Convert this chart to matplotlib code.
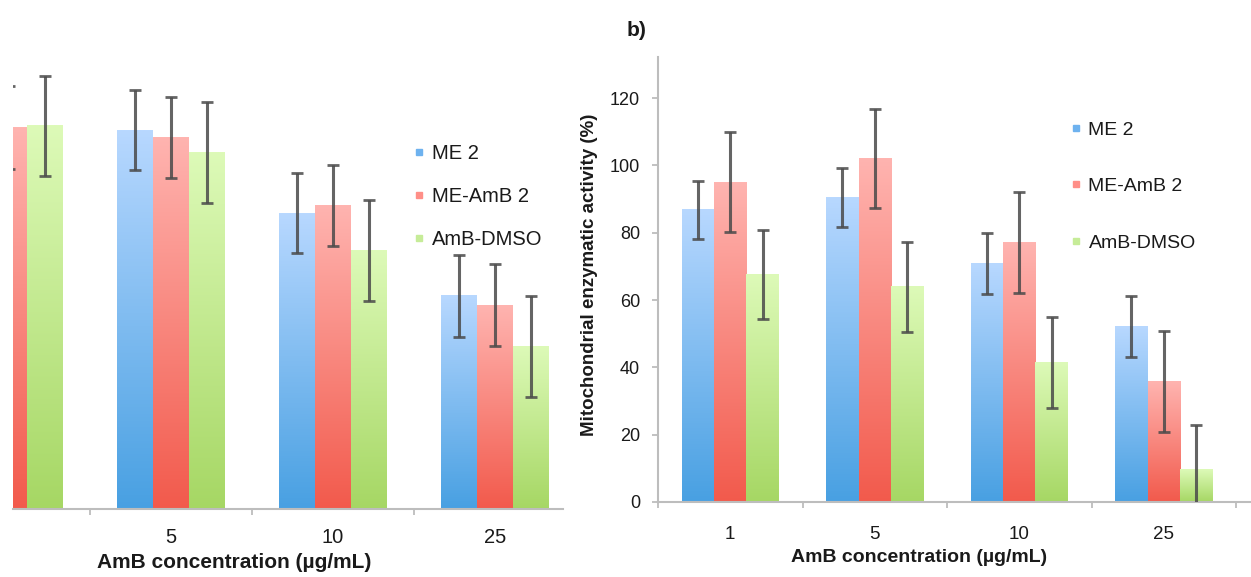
import numpy as np
import matplotlib
matplotlib.use('Agg')
import matplotlib.pyplot as plt
from matplotlib.lines import Line2D
from matplotlib.colors import to_rgb

plt.rcParams['font.family'] = ['Liberation Sans', 'DejaVu Sans']

categories = ['1', '5', '10', '25']
series = ['ME 2', 'ME-AmB 2', 'AmB-DMSO']

# panel a (cropped on the left in the source image)
a_me2 = [112.0, 112.6, 87.9, 63.3]
a_me2_err = [12.0, 11.9, 11.8, 12.2]
a_meamb2 = [113.4, 110.3, 90.1, 60.6]
a_meamb2_err = [12.4, 12.0, 12.0, 12.3]
a_dmso = [113.8, 105.9, 76.8, 48.4]
a_dmso_err = [15.0, 15.0, 14.9, 15.0]

# panel b
b_me2 = [86.8, 90.4, 70.8, 52.2]
b_me2_err = [8.7, 8.7, 9.0, 9.0]
b_meamb2 = [95.0, 102.1, 77.2, 35.7]
b_meamb2_err = [14.9, 14.8, 15.0, 15.0]
b_dmso = [67.6, 63.9, 41.5, 9.7]
b_dmso_err = [13.3, 13.4, 13.5, 13.1]
b_yticks = [0, 20, 40, 60, 80, 100, 120]

grad_top = ['#b8d8ff', '#ffb4b0', '#ddfab8']
grad_bottom = ['#48a0e2', '#f25a4c', '#a6d764']
legend_colors = ['#6eb2ef', '#ff8f88', '#c6ec98']
axis_color = '#bdbdbd'
text_color = '#1a1a1a'
err_color = '#4a4a4a'

W, H = 1251, 577
fig = plt.figure(figsize=(W / 100, H / 100), dpi=100)


def gradient_bars(ax, bars, top, bottom):
    t = np.array(to_rgb(top))
    b = np.array(to_rgb(bottom))
    f = np.linspace(0, 1, 256)[:, None]
    grad = (b + (t - b) * f)[:, None, :]
    for r in bars:
        x0 = r.get_x()
        w = r.get_width()
        h = r.get_height()
        ax.imshow(grad, extent=[x0, x0 + w, 0, h], origin='lower',
                  aspect='auto', interpolation='bilinear', zorder=2)


def draw(ax, vals, errs, width, capsize):
    x = np.arange(len(categories))
    offs = [-width, 0, width]
    for i in range(3):
        bars = ax.bar(x + offs[i], vals[i], width, color=legend_colors[i],
                      zorder=1, linewidth=0)
        gradient_bars(ax, bars, grad_top[i], grad_bottom[i])
        ax.errorbar(x + offs[i], vals[i], yerr=errs[i], fmt='none',
                    ecolor=err_color, elinewidth=2.2, capsize=capsize,
                    capthick=2.0, alpha=0.85, zorder=3)
    return x


def px(x, y):
    return x / W, 1 - y / H


# ---------- left panel (cropped) ----------
axl = fig.add_axes([13 / W, 68 / H, 550 / W, 452 / H])
xl = draw(axl, [a_me2, a_meamb2, a_dmso], [a_me2_err, a_meamb2_err, a_dmso_err], 0.222, 4.5)
for s in ['top', 'right', 'left']:
    axl.spines[s].set_visible(False)
axl.spines['bottom'].set_color(axis_color)
axl.spines['bottom'].set_linewidth(1.5)
axl.set_yticks([])
axl.set_xticks(xl[1:], categories[1:])
axl.set_xticks(np.arange(-0.5, len(categories), 1.0), minor=True)
axl.set_xlim(0.025, 3.42)
axl.set_ylim(0, 134.3)
axl.tick_params(axis='x', which='major', length=0, pad=14, labelsize=14.5, labelcolor=text_color)
axl.tick_params(axis='x', which='minor', length=4, width=1.3, color=axis_color, direction='out')
axl.set_xlabel('AmB concentration (µg/mL)', fontsize=15, fontweight='bold', color=text_color, va='center')
axl.xaxis.set_label_coords((234 - 13) / 550, (509 - 563) / 452)
hl = [Line2D([], [], marker='s', linestyle='none', markersize=5, color=c) for c in legend_colors]
axl.legend(hl, series, loc='upper left', bbox_to_anchor=px(414, 144), bbox_transform=fig.transFigure,
           frameon=False, fontsize=14.5, handlelength=0.5, handletextpad=0.4, labelspacing=1.2,
           borderpad=0, borderaxespad=0, labelcolor=text_color)

# ---------- right panel (b) ----------
axr = fig.add_axes([658 / W, 75 / H, 592.5 / W, 445 / H])
xr = draw(axr, [b_me2, b_meamb2, b_dmso], [b_me2_err, b_meamb2_err, b_dmso_err], 0.224, 4.3)
for s in ['top', 'right']:
    axr.spines[s].set_visible(False)
for s in ['left', 'bottom']:
    axr.spines[s].set_color(axis_color)
    axr.spines[s].set_linewidth(1.5)
axr.set_yticks(b_yticks)
axr.set_xticks(xr, categories)
axr.set_xticks(np.arange(-0.5, len(categories), 1.0), minor=True)
axr.set_xlim(-0.5, 3.6)
axr.set_ylim(0, 132.2)
axr.tick_params(axis='x', which='major', length=0, pad=17, labelsize=13.5, labelcolor=text_color)
axr.tick_params(axis='x', which='minor', length=4, width=1.3, color=axis_color, direction='out')
axr.tick_params(axis='y', length=4, width=1.3, color=axis_color, direction='out', pad=9,
                labelsize=13, labelcolor=text_color)
axr.set_xlabel('AmB concentration (µg/mL)', fontsize=14, fontweight='bold', color=text_color, va='center')
axr.xaxis.set_label_coords((919 - 658) / 592.5, (502 - 557) / 445)
axr.set_ylabel('Mitochondrial enzymatic activity (%)', fontsize=13.5, fontweight='bold',
               color=text_color, va='center')
axr.yaxis.set_label_coords((590 - 658) / 592.5, (502 - 274.5) / 445)
hr = [Line2D([], [], marker='s', linestyle='none', markersize=5, color=c) for c in legend_colors]
axr.legend(hr, series, loc='upper left', bbox_to_anchor=px(1071, 121), bbox_transform=fig.transFigure,
           frameon=False, fontsize=14, handlelength=0.5, handletextpad=0.4, labelspacing=2.0,
           borderpad=0, borderaxespad=0, labelcolor=text_color)

fig.text(*px(637, 30), 'b)', ha='center', va='center', fontsize=15, fontweight='bold', color=text_color)

fig.savefig('out.png', dpi=100)
